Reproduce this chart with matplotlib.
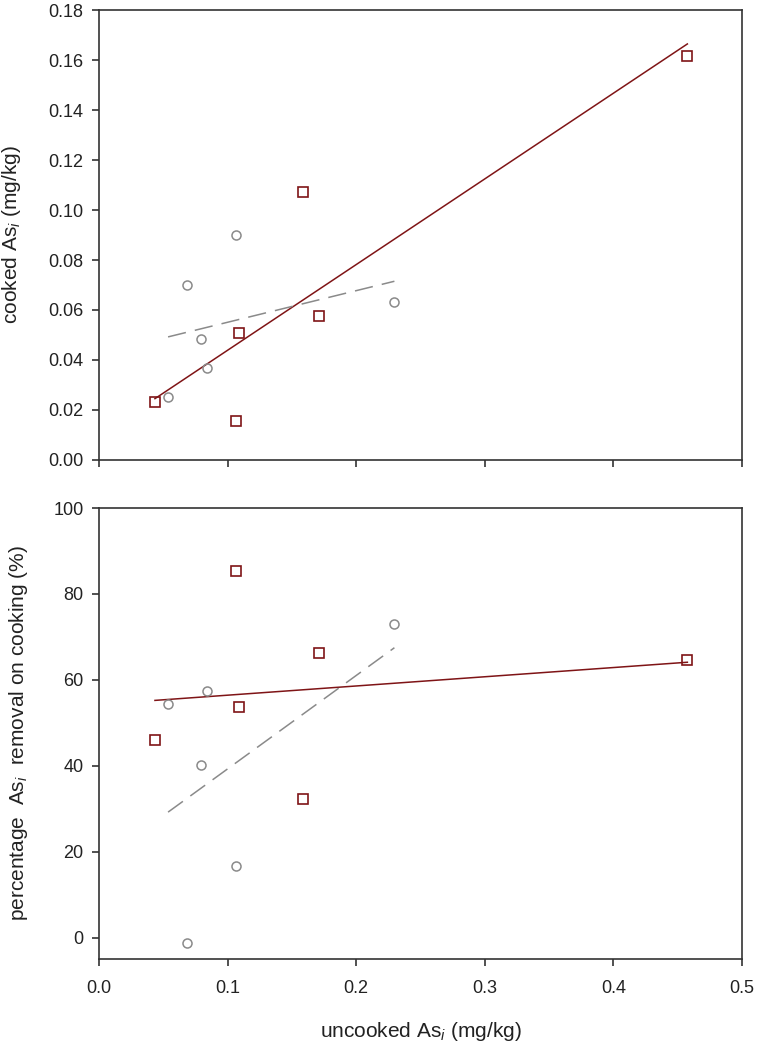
import numpy as np
import matplotlib
matplotlib.use("Agg")
import matplotlib.pyplot as plt

plt.rcParams['font.family'] = ['Liberation Sans', 'DejaVu Sans']
plt.rcParams['mathtext.fontset'] = 'custom'
plt.rcParams['mathtext.rm'] = 'Liberation Sans'
plt.rcParams['mathtext.it'] = 'Liberation Sans:italic'

# uncooked vs cooked, squares (red) and circles (grey)
sq_uncooked = [0.0435, 0.1065, 0.1091, 0.1584, 0.1708, 0.4575]
sq_cooked = [0.0233, 0.0156, 0.0507, 0.1073, 0.0576, 0.1617]
ci_uncooked = [0.0537, 0.0682, 0.0793, 0.0842, 0.1065, 0.2297]
ci_cooked = [0.0253, 0.0699, 0.0483, 0.0367, 0.0899, 0.0632]

# percentage removal on cooking
sq_removal = [46.0, 85.3, 53.6, 32.3, 66.2, 64.7]
ci_removal = [54.3, -1.2, 40.1, 57.5, 16.7, 72.9]

x_ticks = [0.0, 0.1, 0.2, 0.3, 0.4, 0.5]
top_yticks = [0.00, 0.02, 0.04, 0.06, 0.08, 0.10, 0.12, 0.14, 0.16, 0.18]
bot_yticks = [0, 20, 40, 60, 80, 100]

red = '#7f1416'
grey = '#8a8a8a'
spine_col = '#333333'


def fit_line(ax, x, y, **kw):
    # least squares line over the range of the data
    x = np.asarray(x)
    k, b = np.polyfit(x, np.asarray(y), 1)
    xs = np.array([x.min(), x.max()])
    ax.plot(xs, k * xs + b, **kw)


def style_axes(ax):
    for s in ax.spines.values():
        s.set_color(spine_col)
        s.set_linewidth(1.2)
    ax.tick_params(direction='out', length=5, width=1.2, color=spine_col,
                   labelsize=13, labelcolor='#222222', pad=6)
    ax.tick_params(axis='x', pad=10)


fig = plt.figure(figsize=(7.57, 10.44), dpi=100)
ax1 = fig.add_axes([0.1308, 0.5594, 0.8494, 0.4310])
ax2 = fig.add_axes([0.1308, 0.0814, 0.8494, 0.4320])

# top panel
fit_line(ax1, sq_uncooked, sq_cooked, color=red, lw=1.1, zorder=2)
fit_line(ax1, ci_uncooked, ci_cooked, color=grey, lw=1.1, dashes=(12, 6), zorder=2)
ax1.plot(sq_uncooked, sq_cooked, 's', ms=7.5, mfc='none', mec=red, mew=1.2, zorder=3)
ax1.plot(ci_uncooked, ci_cooked, 'o', ms=6.5, mfc='none', mec=grey, mew=1.1, zorder=3)
ax1.set_xlim(0, 0.5)
ax1.set_ylim(0, 0.18)
ax1.set_xticks(x_ticks)
ax1.set_xticklabels([])
ax1.set_yticks(top_yticks)
ax1.set_yticklabels([f"{v:.2f}" for v in top_yticks])
ax1.set_ylabel("cooked As$_i$ (mg/kg)", fontsize=15, color='#222222')
ax1.yaxis.set_label_coords(-0.118, 0.5)
style_axes(ax1)

# bottom panel
fit_line(ax2, sq_uncooked, sq_removal, color=red, lw=1.1, zorder=2)
fit_line(ax2, ci_uncooked, ci_removal, color=grey, lw=1.1, dashes=(12, 6), zorder=2)
ax2.plot(sq_uncooked, sq_removal, 's', ms=7.5, mfc='none', mec=red, mew=1.2, zorder=3)
ax2.plot(ci_uncooked, ci_removal, 'o', ms=6.5, mfc='none', mec=grey, mew=1.1, zorder=3)
ax2.set_xlim(0, 0.5)
ax2.set_ylim(-5, 100)
ax2.set_xticks(x_ticks)
ax2.set_xticklabels([f"{v:.1f}" for v in x_ticks])
ax2.set_yticks(bot_yticks)
ax2.set_ylabel("percentage  As$_i$  removal on cooking (%)", fontsize=15, color='#222222')
ax2.yaxis.set_label_coords(-0.107, 0.5)
ax2.set_xlabel("uncooked As$_i$ (mg/kg)", fontsize=15, color='#222222')
ax2.xaxis.set_label_coords(0.5, -0.135)
style_axes(ax2)

fig.savefig("out.png", dpi=100)
